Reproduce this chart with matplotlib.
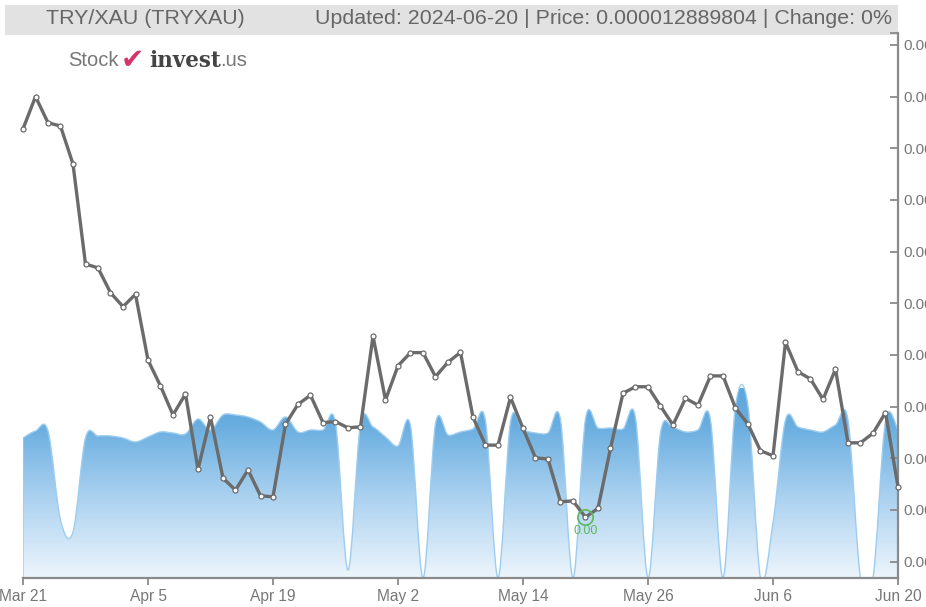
import numpy as np
import matplotlib
matplotlib.use("Agg")
import matplotlib.pyplot as plt
from matplotlib.path import Path
from matplotlib.patches import PathPatch, Rectangle
from matplotlib.colors import LinearSegmentedColormap

plt.rcParams['font.family'] = ['Liberation Sans', 'DejaVu Sans']

# TRY/XAU daily close
price = [
    1.4275e-5, 1.4400e-5, 1.4299e-5, 1.4286e-5, 1.4139e-5, 1.3752e-5, 1.3737e-5, 1.3641e-5,
    1.3587e-5, 1.3635e-5, 1.3380e-5, 1.3280e-5, 1.3168e-5, 1.3249e-5, 1.2957e-5, 1.3159e-5,
    1.2923e-5, 1.2877e-5, 1.2955e-5, 1.2855e-5, 1.2851e-5, 1.3132e-5, 1.3209e-5, 1.3244e-5,
    1.3138e-5, 1.3142e-5, 1.3118e-5, 1.3122e-5, 1.3473e-5, 1.3226e-5, 1.3358e-5, 1.3409e-5,
    1.3409e-5, 1.3316e-5, 1.3372e-5, 1.3410e-5, 1.3159e-5, 1.3051e-5, 1.3051e-5, 1.3236e-5,
    1.3116e-5, 1.3002e-5, 1.2997e-5, 1.2832e-5, 1.2835e-5, 1.2772e-5, 1.2806e-5, 1.3039e-5,
    1.3252e-5, 1.3277e-5, 1.3277e-5, 1.3202e-5, 1.3129e-5, 1.3232e-5, 1.3206e-5, 1.3319e-5,
    1.3319e-5, 1.3194e-5, 1.3132e-5, 1.3029e-5, 1.3010e-5, 1.3449e-5, 1.3335e-5, 1.3307e-5,
    1.3228e-5, 1.3345e-5, 1.3060e-5, 1.3060e-5, 1.3097e-5, 1.3177e-5, 1.28898e-5,
]

# relative volume (hidden axis)
volume = [
    140, 147, 147, 58, 46, 140, 142, 142, 140, 136, 141, 146, 145, 144, 159, 148,
    163, 163, 161, 156, 148, 161, 146, 148, 148, 155, 8, 154, 151, 141, 132, 152,
    0, 154, 143, 146, 149, 157, 0, 156, 148, 145, 145, 158, 0, 159, 150, 150,
    149, 160, 0, 145, 150, 146, 148, 158, 0, 172, 172, 0, 55, 158, 151, 148,
    146, 153, 158, 0, 0, 157, 148,
]

tick_idx = [0, 10, 20, 30, 40, 50, 60, 70]
tick_labels = ["Mar 21", "Apr 5", "Apr 19", "May 2", "May 14", "May 26", "Jun 6", "Jun 20"]
price_ticks = [0.0000126, 0.0000128, 0.0000130, 0.0000132, 0.0000134, 0.0000136,
               0.0000138, 0.0000140, 0.0000142, 0.0000144, 0.0000146]

W, H = 926, 607
GREY = '#8a8a8a'


def smooth_area(x, y):
    """Catmull-Rom curve through the points, closed down to zero"""
    x = np.asarray(x, float)
    y = np.asarray(y, float)
    px = np.concatenate([[x[0]], x, [x[-1]]])
    py = np.concatenate([[y[0]], y, [y[-1]]])
    verts = [(x[0], 0), (x[0], y[0])]
    codes = [Path.MOVETO, Path.LINETO]
    for i in range(len(x) - 1):
        c1 = (px[i + 1] + (px[i + 2] - px[i]) / 6, py[i + 1] + (py[i + 2] - py[i]) / 6)
        c2 = (px[i + 2] - (px[i + 3] - px[i + 1]) / 6, py[i + 2] - (py[i + 3] - py[i + 1]) / 6)
        verts += [c1, c2, (x[i + 1], y[i + 1])]
        codes += [Path.CURVE4] * 3
    verts += [(x[-1], 0), (x[0], 0)]
    codes += [Path.LINETO, Path.CLOSEPOLY]
    return Path(verts, codes)


fig = plt.figure(figsize=(W / 100, H / 100), dpi=100)
ax = fig.add_axes([23 / W, 1 - 578 / H, 875 / W, 545 / H])
ax2 = ax.twinx()
ax.set_zorder(ax2.get_zorder() + 1)
ax.patch.set_visible(False)

# volume area with gradient
xs = np.arange(len(volume))
area = smooth_area(xs, volume)
ax2.set_xlim(0, len(volume) - 1)
ax2.set_ylim(0, 545)
ax2.axis('off')
cmap = LinearSegmentedColormap.from_list(
    'vol', [(0.0, '#edf5fc'), (0.42, '#acd2f0'), (0.8, '#6aaee0'), (1.0, '#5ea6dd')])
im = ax2.imshow(np.linspace(0, 1, 256).reshape(-1, 1), extent=[0, len(volume) - 1, 0, 190],
                origin='lower', cmap=cmap, aspect='auto', zorder=1)
edge = PathPatch(area, facecolor='none', edgecolor='#9ccdf0', lw=1.0, zorder=2)
ax2.add_patch(edge)
im.set_clip_path(edge)

# price line
xp = np.arange(len(price))
ax.plot(xp, price, '-', color='#6b6b6b', lw=2.4, zorder=3, clip_on=False)
ax.plot(xp, price, 'o', ms=3.6, mfc='white', mec='#6b6b6b', mew=0.9, zorder=4, clip_on=False)

# lowest point marker
imin = int(np.argmin(price))
ax.plot(imin, price[imin], 'o', ms=11, mfc='none', mec='#5cb85c', mew=1.2, zorder=5)
ax.annotate("0.00", xy=(imin, price[imin]), xytext=(0, -10), textcoords='offset points',
            ha='center', va='center', color='#5cb85c', fontsize=9)

ax.set_xlim(0, len(price) - 1)
ax.set_ylim(1.25367e-5, 1.46462e-5)

ax.set_xticks(tick_idx)
ax.set_xticklabels(tick_labels)
ax.yaxis.tick_right()
ax.set_yticks(price_ticks)
ax.set_yticklabels([f"{v:.7f}" for v in price_ticks])
ax.set_yticks([1.46462e-5], minor=True)

for s in ['top', 'left']:
    ax.spines[s].set_visible(False)
for s in ['right', 'bottom']:
    ax.spines[s].set_color(GREY)
    ax.spines[s].set_linewidth(1.6)
ax.tick_params(axis='x', direction='out', length=5, width=1.3, color=GREY,
               labelcolor='#777777', labelsize=11.2, pad=3)
ax.tick_params(axis='y', which='both', direction='in', length=6, width=1.3, color=GREY,
               labelcolor='#777777', labelsize=11, pad=4)

# header band
fig.add_artist(Rectangle((5 / W, 1 - 35 / H), 893 / W, 30 / H, transform=fig.transFigure,
                         facecolor='#e2e2e2', edgecolor='none', zorder=0))
fig.text(145 / W, 1 - 19 / H, "TRY/XAU (TRYXAU)", ha='center', va='center',
         fontsize=15.4, color='#666666')
fig.text(892 / W, 1 - 19 / H, "Updated: 2024-06-20 | Price: 0.000012889804 | Change: 0%",
         ha='right', va='center', fontsize=15.4, color='#666666')

# logo
fig.text(68 / W, 1 - 61 / H, "Stock", ha='left', va='center', fontsize=14.5, color='#777777')
fig.text(121 / W, 1 - 60 / H, "\u2714", ha='left', va='center', fontsize=20, color='#d6336c',
         family=['DejaVu Sans'])
fig.text(149 / W, 1 - 61 / H, "invest", ha='left', va='center', fontsize=15.5, color='#444444',
         fontweight='bold', family=['DejaVu Serif'])
fig.text(220 / W, 1 - 61 / H, ".us", ha='left', va='center', fontsize=14.5, color='#777777')

fig.savefig("out.png", dpi=100)
